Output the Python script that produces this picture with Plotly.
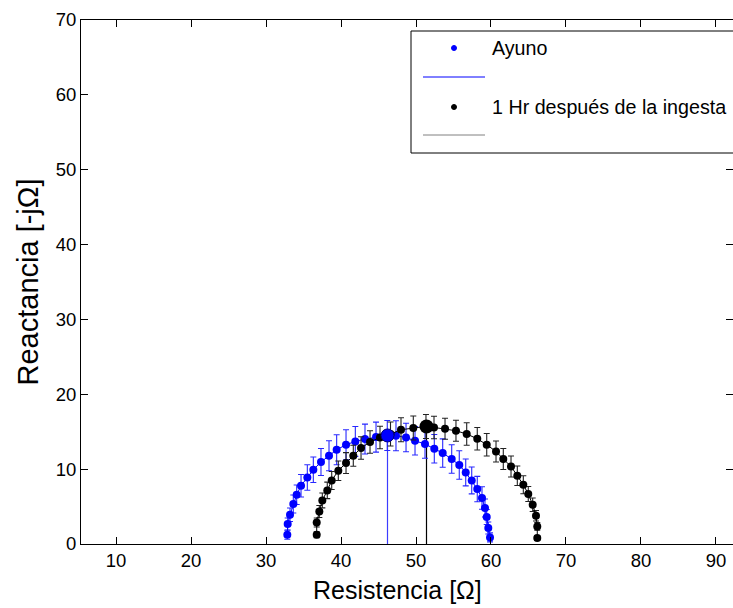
import plotly.graph_objects as go

# ---- Data ----
ayuno_r = [32.84, 32.89, 33.20, 33.64, 34.09, 34.67, 35.51, 36.31, 37.33, 38.40, 39.42,
           40.67, 41.91, 43.20, 44.67, 46.17, 47.33, 48.67, 49.87, 51.20, 52.44, 53.56,
           54.76, 55.77, 56.63, 57.43, 58.17, 58.80, 59.20, 59.43, 59.64, 59.87]
ayuno_x = [1.24, 2.67, 3.91, 5.34, 6.58, 7.78, 8.89, 9.92, 10.95, 11.79, 12.59,
           13.26, 13.70, 14.02, 14.28, 14.50, 14.46, 14.23, 13.79, 13.35, 12.72, 12.15,
           11.35, 10.55, 9.56, 8.49, 7.34, 6.14, 4.81, 3.60, 2.14, 0.88]
ayuno_err = [0.6, 0.8, 0.9, 1.2, 1.3, 1.5, 1.7, 1.7, 1.8, 2.0, 2.0,
             2.0, 2.0, 2.0, 2.0, 2.0, 2.0, 1.9, 1.9, 1.9, 1.9, 1.9,
             1.9, 1.9, 1.8, 1.8, 1.7, 1.5, 1.2, 1.0, 0.8, 0.6]

post_r = [36.76, 36.76, 37.11, 37.51, 38.17, 38.76, 39.64, 40.67, 41.64, 42.67, 43.87,
          45.20, 46.60, 48.00, 49.64, 51.33, 52.40, 53.87, 55.33, 56.76, 58.17, 59.43,
          60.67, 61.64, 62.67, 63.51, 64.31, 64.97, 65.56, 66.00, 66.17, 66.17]
post_x = [1.24, 2.88, 4.35, 5.82, 7.16, 8.49, 9.79, 10.81, 11.79, 12.82, 13.62,
          14.23, 14.69, 15.26, 15.49, 15.70, 15.57, 15.39, 15.13, 14.69, 14.06, 13.26,
          12.36, 11.35, 10.36, 9.12, 7.92, 6.68, 5.25, 3.78, 2.35, 0.80]
post_err = [0.4, 0.6, 0.8, 1.0, 1.1, 1.2, 1.3, 1.4, 1.4, 1.5, 1.5,
            1.5, 1.6, 1.6, 1.6, 1.6, 1.5, 1.4, 1.4, 1.5, 1.5, 1.5,
            1.4, 1.4, 1.4, 1.3, 1.2, 1.0, 0.9, 0.7, 0.5, 0.3]

# characteristic (peak) points
peak_r = [46.2, 51.4]
peak_x = [14.5, 15.7]

series_names = ["Ayuno", "1 Hr después de la ingesta"]
x_ticks = [10, 20, 30, 40, 50, 60, 70, 80, 90]
y_ticks = [0, 10, 20, 30, 40, 50, 60, 70]
x_title = "Resistencia [Ω]"
y_title = "Reactancia [-jΩ]"

FONT = "Liberation Sans, Arial, sans-serif"
BLUE = "#0000ff"
BLUE_BAR = "#2828ff"
BLACK = "#000000"

fig = go.Figure()

# vertical lines from axis to the peak
fig.add_trace(go.Scatter(x=[peak_r[0], peak_r[0]], y=[0, peak_x[0]], mode="lines",
                         line=dict(color="#3c3cff", width=1.2), showlegend=False, hoverinfo="skip"))
fig.add_trace(go.Scatter(x=[peak_r[1], peak_r[1]], y=[0, peak_x[1]], mode="lines",
                         line=dict(color=BLACK, width=1.2), showlegend=False, hoverinfo="skip"))

fig.add_trace(go.Scatter(
    x=ayuno_r, y=ayuno_x, mode="lines+markers", name=series_names[0],
    line=dict(color=BLUE, width=1),
    marker=dict(color=BLUE, size=8),
    error_y=dict(type="data", array=ayuno_err, color=BLUE_BAR, thickness=1.1, width=3),
    showlegend=False))
fig.add_trace(go.Scatter(
    x=post_r, y=post_x, mode="lines+markers", name=series_names[1],
    line=dict(color=BLACK, width=1),
    marker=dict(color=BLACK, size=8),
    error_y=dict(type="data", array=post_err, color="#222222", thickness=1.1, width=3),
    showlegend=False))

# peak markers
fig.add_trace(go.Scatter(x=[peak_r[0]], y=[peak_x[0]], mode="markers",
                         marker=dict(color=BLUE, size=13, line=dict(color="#000080", width=1)),
                         showlegend=False))
fig.add_trace(go.Scatter(x=[peak_r[1]], y=[peak_x[1]], mode="markers",
                         marker=dict(color=BLACK, size=14), showlegend=False))

# ---- layout geometry ----
W, H = 733, 608
L, R, T, B = 81, 0, 20, 64
pw, ph = W - L - R, H - T - B

def px(xp):
    return (xp - L) / pw

def py(yp):
    return (H - B - yp) / ph

shapes = []
annotations = []
# legend box
shapes.append(dict(type="rect", xref="paper", yref="paper",
                   x0=px(411), x1=px(760), y0=py(153), y1=py(31),
                   line=dict(color="black", width=1), fillcolor="white", layer="above"))
# legend entries
leg_rows = [(48, 77, BLUE, series_names[0]), (107, 135, "#808080", series_names[1])]
mcolors = [BLUE, BLACK]
for i, (ym, yl, lcol, name) in enumerate(leg_rows):
    shapes.append(dict(type="circle", xref="paper", yref="paper",
                       x0=px(451.5), x1=px(456.5), y0=py(ym + 2.5), y1=py(ym - 2.5),
                       fillcolor=mcolors[i], line=dict(color=mcolors[i], width=1), layer="above"))
    shapes.append(dict(type="line", xref="paper", yref="paper",
                       x0=px(423), x1=px(485), y0=py(yl), y1=py(yl),
                       line=dict(color=lcol, width=1), layer="above"))
    annotations.append(dict(xref="paper", yref="paper", x=px(490), y=py(ym),
                            xanchor="left", yanchor="middle", text=name, showarrow=False,
                            font=dict(family=FONT, size=19.7, color="black")))

# x axis title (centred as in the original figure)
annotations.append(dict(xref="paper", yref="paper", x=px(397), y=py(590),
                        xanchor="center", yanchor="middle", text=x_title, showarrow=False,
                        font=dict(family=FONT, size=25, color="black")))

fig.update_layout(
    width=W, height=H,
    margin=dict(l=L, r=R, t=T, b=B, pad=0),
    paper_bgcolor="white", plot_bgcolor="white",
    font=dict(family=FONT, size=18.5, color="black"),
    shapes=shapes, annotations=annotations,
    showlegend=False,
    xaxis=dict(range=[5.33, 92.27], tickvals=x_ticks, ticks="inside", ticklen=7,
               tickcolor="black", showline=True, linecolor="black", linewidth=1,
               mirror="ticks", showgrid=False, zeroline=False, automargin=False,
               tickfont=dict(family=FONT, size=18.5)),
    yaxis=dict(range=[0, 70], tickvals=y_ticks, ticks="inside", ticklen=7,
               tickcolor="black", showline=True, linecolor="black", linewidth=1,
               mirror="ticks", showgrid=False, zeroline=False, automargin=False,
               tickfont=dict(family=FONT, size=18.5),
               title=dict(text=y_title, font=dict(family=FONT, size=29), standoff=8)),
)

fig.write_html("out.html")
